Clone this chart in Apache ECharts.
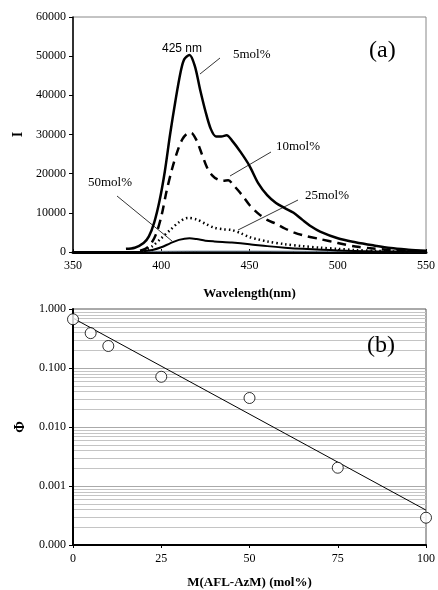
<!DOCTYPE html>
<html><head><meta charset="utf-8">
<script src="https://cdn.jsdelivr.net/npm/echarts@6/dist/echarts.min.js"></script>
<style>html,body{margin:0;padding:0;background:#fff}#c{width:438px;height:590px}</style>
</head><body><div id="c"></div>
<script>
// Panel (a): emission spectra
const w5 = [380,385,390,393,396,399,402,405,408,411,413,416,419,422,425,428,431,434,437,440,445,450,455,460,465,470,475,480,485,490,500,510,520,530,540,550];
const i5 = [800,1100,2300,4000,7500,13000,20500,30000,38500,46000,49200,50300,47500,41500,36000,31500,29500,29500,29800,28500,25500,22000,17500,14500,12500,11200,10000,8200,6500,5200,3500,2500,1700,1000,600,300];
const w10 = [388,391,394,397,400,403,406,409,412,415,417,420,423,426,429,432,435,438,441,444,447,450,455,460,465,470,475,480,490,500,510,520,530,540,550];
const i10 = [300,800,2000,4500,9000,15500,21000,25500,28800,30300,30400,28500,25000,21500,19500,18500,18200,18300,17000,15500,13800,12000,9800,8200,7200,6000,5000,4300,3300,2300,1400,900,500,300,150];
const w25 = [390,395,400,405,410,415,420,425,430,435,440,445,450,455,460,470,480,490,500,510,520,530,540];
const i25 = [200,1500,3500,5600,7600,8700,8300,7200,6200,5800,5600,4800,3800,3200,2700,2000,1500,1100,800,500,300,150,50];
const w50 = [390,395,400,405,410,416,420,425,430,440,450,460,470,480,500,520,550];
const i50 = [200,500,1200,2200,3100,3500,3300,2900,2700,2400,2000,1500,1100,800,400,200,100];
const w100 = [390,420,450,500,550];
const i100 = [150,250,250,150,80];
const xTicksA = [350,400,450,500,550];
const yTicksA = [0,10000,20000,30000,40000,50000,60000];

// Panel (b): quantum yield vs composition
const molPct = [0,5,10,25,50,75,100];
const phi = [0.67,0.39,0.236,0.071,0.031,0.00204,0.00029];
const fitX = [0,100];
const fitY = [0.70,0.00039];
const xTicksB = [0,25,50,75,100];
const decadesB = [0.0001,0.001,0.01,0.1,1];

const pairs = (xs, ys) => xs.map((x, k) => [x, ys[k]]);
const serif = 'Liberation Serif';

const chart = echarts.init(document.getElementById('c'));
const axisLabelStyle = {fontFamily: serif, fontSize: 12, color: '#000'};
const nameStyle = {fontFamily: serif, fontSize: 13, fontWeight: 'bold', color: '#000'};

chart.setOption({
  animation: false,
  grid: [
    {left: 73, top: 17, width: 355, height: 235, show: true, borderColor: '#888', borderWidth: 1},
    {left: 73, top: 309, width: 355, height: 237, show: true, borderColor: '#555', borderWidth: 1}
  ],
  xAxis: [
    {gridIndex: 0, type: 'value', min: xTicksA[0], max: xTicksA[xTicksA.length-1], interval: 50,
     name: 'Wavelength(nm)', nameLocation: 'middle', nameGap: 35, nameTextStyle: nameStyle,
     axisLine: {lineStyle: {color: '#000', width: 3}}, axisTick: {inside: true, length: 3, lineStyle: {color: '#000', width: 1}},
     axisLabel: Object.assign({margin: 8}, axisLabelStyle), splitLine: {show: false}},
    {gridIndex: 1, type: 'value', min: xTicksB[0], max: xTicksB[xTicksB.length-1], interval: 25,
     name: 'M(AFL-AzM) (mol%)', nameLocation: 'middle', nameGap: 31, nameTextStyle: nameStyle,
     axisLine: {lineStyle: {color: '#000', width: 2}}, axisTick: {inside: false, length: 3, lineStyle: {color: '#000'}},
     axisLabel: Object.assign({margin: 8}, axisLabelStyle), splitLine: {show: false}}
  ],
  yAxis: [
    {gridIndex: 0, type: 'value', min: yTicksA[0], max: yTicksA[yTicksA.length-1], interval: 10000,
     name: 'I', nameLocation: 'middle', nameGap: 46, nameRotate: 90, nameTextStyle: Object.assign({}, nameStyle, {fontSize: 14}),
     axisLine: {show: true, lineStyle: {color: '#000', width: 1.5}}, axisTick: {show: true, length: 4, lineStyle: {color: '#000'}},
     axisLabel: Object.assign({margin: 7, formatter: v => String(v)}, axisLabelStyle), splitLine: {show: false}},
    {gridIndex: 1, type: 'log', logBase: 10, min: decadesB[0], max: decadesB[decadesB.length-1],
     name: 'Φ', nameLocation: 'middle', nameGap: 46, nameRotate: 90, nameTextStyle: Object.assign({}, nameStyle, {fontSize: 14}),
     axisLine: {show: true, lineStyle: {color: '#000', width: 2}}, axisTick: {show: true, length: 4, lineStyle: {color: '#000'}},
     axisLabel: Object.assign({margin: 7, formatter: v => v.toFixed(3)}, axisLabelStyle), splitLine: {show: false}}
  ],
  series: [
    {name: '100', type: 'line', xAxisIndex: 0, yAxisIndex: 0, data: pairs(w100, i100), smooth: 0.3, showSymbol: false,
     lineStyle: {color: '#8899aa', width: 1}},
    {name: '50mol%', type: 'line', xAxisIndex: 0, yAxisIndex: 0, data: pairs(w50, i50), smooth: 0.3, showSymbol: false,
     lineStyle: {color: '#000', width: 2}},
    {name: '25mol%', type: 'line', xAxisIndex: 0, yAxisIndex: 0, data: pairs(w25, i25), smooth: 0.3, showSymbol: false,
     lineStyle: {color: '#000', width: 2.5, type: [1.5, 3]}},
    {name: '10mol%', type: 'line', xAxisIndex: 0, yAxisIndex: 0, data: pairs(w10, i10), smooth: 0.3, showSymbol: false,
     lineStyle: {color: '#000', width: 2.5, type: [9, 6]}},
    {name: '5mol%', type: 'line', xAxisIndex: 0, yAxisIndex: 0, data: pairs(w5, i5), smooth: 0.3, showSymbol: false,
     lineStyle: {color: '#000', width: 2.5}},
    {name: 'fit', type: 'line', xAxisIndex: 1, yAxisIndex: 1, data: pairs(fitX, fitY), showSymbol: false,
     lineStyle: {color: '#000', width: 1}, z: 4},
    {name: 'phi', type: 'scatter', xAxisIndex: 1, yAxisIndex: 1, data: pairs(molPct, phi), symbol: 'circle', symbolSize: 11,
     clip: false, itemStyle: {color: '#fff', borderColor: '#000', borderWidth: 1}, z: 5}
  ]
});

// Log-axis minor gridlines (2..9 within each decade) placed through the axis scale
const gridLines = [];
const x0 = chart.convertToPixel({xAxisIndex: 1}, xTicksB[0]);
const x1 = chart.convertToPixel({xAxisIndex: 1}, xTicksB[xTicksB.length-1]);
for (let d = 0; d < decadesB.length - 1; d++) {
  for (let m = 1; m <= 9; m++) {
    if (m === 1 && d === 0) continue;
    const y = Math.round(chart.convertToPixel({yAxisIndex: 1}, decadesB[d] * m)) + 0.5;
    gridLines.push({type: 'line', z: 1, silent: true, shape: {x1: x0 + 1, y1: y, x2: x1, y2: y},
      style: {stroke: m === 1 ? '#aaa' : '#c4c4c4', lineWidth: 1}});
  }
}

const lbl = '13px "Liberation Serif"';
chart.setOption({
  graphic: gridLines.concat([
    {type: 'text', z: 10, left: 162, top: 43, style: {text: '425 nm', font: '12px "Liberation Sans"', fill: '#000'}},
    {type: 'text', z: 10, left: 233, top: 48, style: {text: '5mol%', font: lbl, fill: '#000'}},
    {type: 'line', z: 10, shape: {x1: 220, y1: 58, x2: 200, y2: 74}, style: {stroke: '#000', lineWidth: 0.8}},
    {type: 'text', z: 10, left: 276, top: 140, style: {text: '10mol%', font: lbl, fill: '#000'}},
    {type: 'line', z: 10, shape: {x1: 271, y1: 152, x2: 230, y2: 176}, style: {stroke: '#000', lineWidth: 0.8}},
    {type: 'text', z: 10, left: 305, top: 189, style: {text: '25mol%', font: lbl, fill: '#000'}},
    {type: 'line', z: 10, shape: {x1: 298, y1: 200, x2: 238, y2: 230}, style: {stroke: '#000', lineWidth: 0.8}},
    {type: 'text', z: 10, left: 88, top: 176, style: {text: '50mol%', font: lbl, fill: '#000'}},
    {type: 'line', z: 10, shape: {x1: 117, y1: 196, x2: 172, y2: 241}, style: {stroke: '#000', lineWidth: 0.8}},
    {type: 'text', z: 10, left: 369, top: 39, style: {text: '(a)', font: '24px "Liberation Serif"', fill: '#000'}},
    {type: 'text', z: 10, left: 367, top: 334, style: {text: '(b)', font: '24px "Liberation Serif"', fill: '#000'}}
  ])
});
</script></body></html>
